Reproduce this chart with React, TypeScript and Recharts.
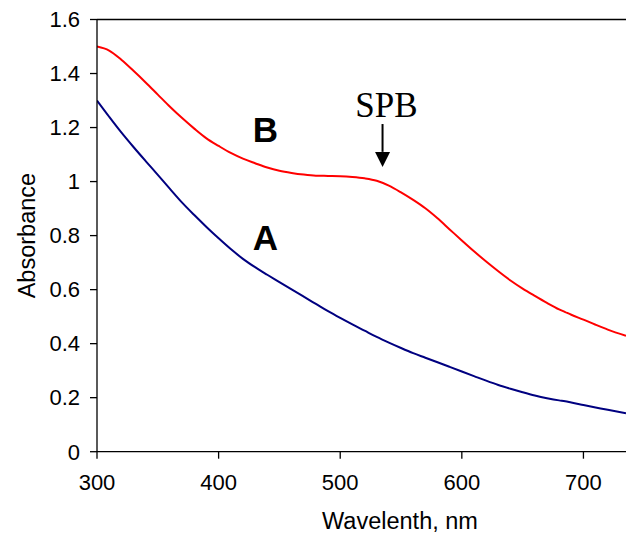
import React from 'react'
import { LineChart, Line, XAxis, YAxis, ReferenceLine, ReferenceDot } from 'recharts'

// wavelength grid (nm) and absorbance
const wavelengths = [
  300, 310, 320, 330, 340, 350, 360, 370, 380, 390, 400, 410, 420, 430, 440, 450, 460, 470, 480, 490,
  500, 510, 520, 530, 540, 550, 560, 570, 580, 590, 600, 610, 620, 630, 640, 650, 660, 670, 680, 685,
  690, 700, 710, 720, 735,
]
const seriesA = [
  1.3, 1.24, 1.182, 1.128, 1.076, 1.025, 0.973, 0.922, 0.876, 0.832, 0.79, 0.75, 0.714, 0.683, 0.655, 0.628, 0.601, 0.574, 0.547, 0.52,
  0.495, 0.471, 0.448, 0.425, 0.404, 0.384, 0.365, 0.348, 0.331, 0.314, 0.297, 0.28, 0.263, 0.247, 0.233, 0.22, 0.208, 0.198, 0.19, 0.187,
  0.182, 0.173, 0.164, 0.155, 0.142,
]
const seriesB = [
  1.5, 1.485, 1.451, 1.41, 1.367, 1.322, 1.277, 1.235, 1.196, 1.16, 1.132, 1.106, 1.085, 1.068, 1.052, 1.04, 1.032, 1.026, 1.022, 1.021,
  1.02, 1.017, 1.012, 1.003, 0.985, 0.96, 0.932, 0.901, 0.864, 0.823, 0.782, 0.742, 0.704, 0.668, 0.634, 0.604, 0.577, 0.551, 0.527, 0.517,
  0.507, 0.489, 0.47, 0.452, 0.429,
]
const xTicks = [300, 400, 500, 600, 700]
const yTicks = [0, 0.2, 0.4, 0.6, 0.8, 1, 1.2, 1.4, 1.6]

const data = wavelengths.map((w, i) => ({ w, a: seriesA[i], b: seriesB[i] }))

const sans = '"Liberation Sans", Arial, sans-serif'
const serif = '"Liberation Serif", "Times New Roman", serif'

const textDot = (label: string, size: number, family: string, bold = false) => (props: any) => (
  <text
    x={props.cx}
    y={props.cy}
    textAnchor="middle"
    fontFamily={family}
    fontSize={size}
    fontWeight={bold ? 'bold' : 'normal'}
    fill="#000"
  >
    {label}
  </text>
)

const arrowHead = (props: any) => {
  const { cx, cy } = props
  return <path d={`M${cx},${cy} L${cx - 7.5},${cy - 15} L${cx + 7.5},${cy - 15} Z`} fill="#000" />
}

export default function App() {
  return (
    <div style={{ position: 'absolute', left: 0, top: 0, width: 626, height: 533, background: '#fff' }}>
      <LineChart width={626} height={533} data={data} margin={{ top: 19.5, right: 0, bottom: 51.3, left: 0 }}>
        <XAxis
          dataKey="w"
          type="number"
          domain={[300, 735]}
          ticks={xTicks}
          allowDataOverflow
          height={30}
          stroke="#000"
          strokeWidth={1.3}
          tickSize={7}
          tickMargin={16}
          tick={{ fill: '#000', fontSize: 22, fontFamily: sans }}
          label={{
            content: () => (
              <text x={400} y={529} textAnchor="middle" fontFamily={sans} fontSize={23.5} fill="#000">
                Wavelenth, nm
              </text>
            ),
          }}
        />
        <YAxis
          type="number"
          domain={[0, 1.6]}
          ticks={yTicks}
          width={97}
          stroke="#000"
          strokeWidth={1.3}
          tickSize={7}
          tickMargin={10}
          tickFormatter={(v: number) => String(v)}
          tick={{ fill: '#000', fontSize: 22, fontFamily: sans }}
          label={{
            content: () => (
              <text
                x={35}
                y={235.6}
                textAnchor="middle"
                transform="rotate(-90, 35, 235.6)"
                fontFamily={sans}
                fontSize={23.5}
                fill="#000"
              >
                Absorbance
              </text>
            ),
          }}
        />
        <ReferenceLine y={1.6} stroke="#000" strokeWidth={1.3} />
        <Line type="monotone" dataKey="b" stroke="#ff0000" strokeWidth={2} dot={false} isAnimationActive={false} />
        <Line type="monotone" dataKey="a" stroke="#000080" strokeWidth={2} dot={false} isAnimationActive={false} />
        <ReferenceDot x={438.5} y={1.146} r={0} shape={textDot('B', 35, sans, true)} />
        <ReferenceDot x={438.5} y={0.746} r={0} shape={textDot('A', 35, sans, true)} />
        <ReferenceDot x={538} y={1.24} r={0} shape={textDot('SPB', 35, serif)} />
        <ReferenceLine
          segment={[
            { x: 534.8, y: 1.213 },
            { x: 534.8, y: 1.11 },
          ]}
          stroke="#000"
          strokeWidth={2}
        />
        <ReferenceDot x={534.8} y={1.054} r={0} shape={arrowHead} />
      </LineChart>
    </div>
  )
}
